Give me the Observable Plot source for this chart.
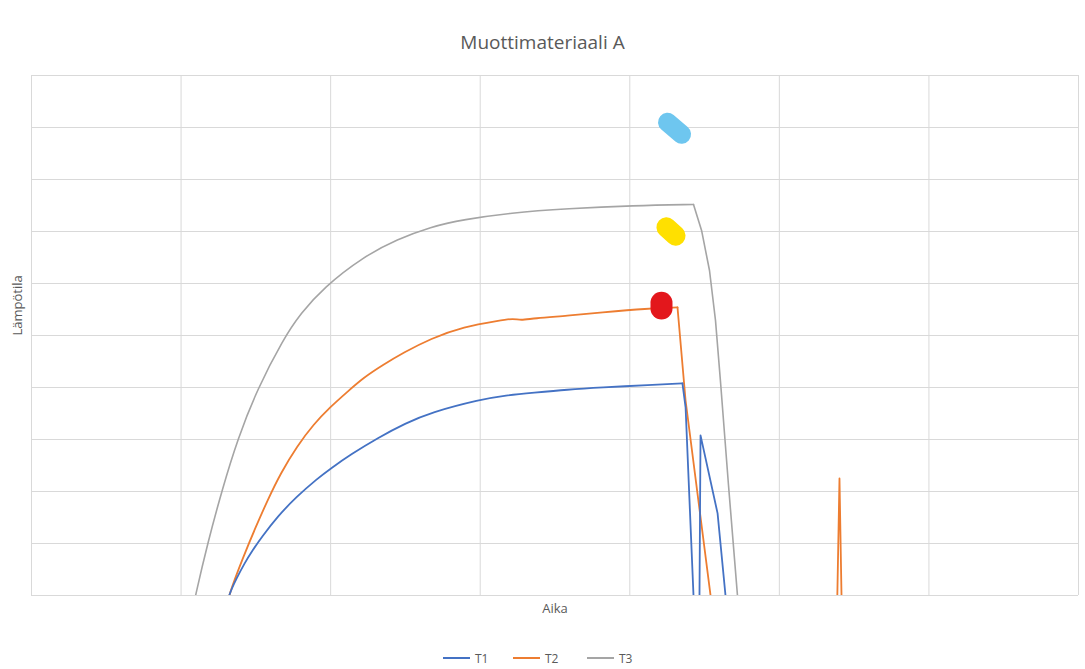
<!DOCTYPE html>
<html>
<head>
<meta charset="utf-8">
<script src="https://cdn.jsdelivr.net/npm/d3@7"></script>
<script src="https://cdn.jsdelivr.net/npm/@observablehq/plot@0.6"></script>
<style>
  body { margin: 0; background: #fff; font-family: "Open Sans", "Liberation Sans", sans-serif; }
  #wrap { width: 1085px; }
  #title { height: 60px; box-sizing: border-box; padding-top: 30px; line-height: 24px;
           text-align: center; font-size: 19px; color: #595959; }
  #legend { height: 34px; position: relative; font-size: 12px; color: #595959; }
  .item { position: absolute; top: 16px; display: flex; align-items: center; height: 14px; }
  .swatch { display: inline-block; width: 27px; height: 2px; margin-right: 5px; }
</style>
</head>
<body>
<div id="wrap">
  <div id="title">Muottimateriaali A</div>
  <div id="chart"></div>
  <div id="legend"></div>
</div>
<script>
// Temperature readings [time, temperature]; values below 0 fall under the axis floor
const seriesNames = ["T1", "T2", "T3"];
const seriesColors = ["#4472C4", "#ED7D31", "#A5A5A5"];

const t1 = [
  [129.0, -3.5], [131.7, 0], [137.1, 3.3], [142.4, 6.2], [147.8, 8.7], [153.8, 11.2],
  [164.5, 15.2], [177.2, 19.0], [191.2, 22.5], [199.9, 24.4], [213.3, 27.1], [232.0, 30.4],
  [250.0, 33.1], [266.8, 35.2], [300.2, 37.7], [316.9, 38.5], [335.6, 39.0], [358.4, 39.6],
  [380.4, 40.0], [413.8, 40.5], [435.2, 40.8],
  [437.3, 36.2], [442.6, 0], [443.3, -3.8], [446.0, -3.8], [446.6, 0], [447.3, 30.8],
  [458.7, 15.8], [464.0, 0], [464.7, -3.8]
];
const t2 = [
  [129.7, -3.3], [131.7, 0], [141.7, 7.5], [149.8, 13.1], [157.8, 18.3], [166.5, 23.5],
  [177.8, 28.8], [188.5, 32.9], [199.9, 36.3], [211.3, 39.2], [222.0, 41.9], [235.3, 44.4],
  [248.7, 46.7], [266.8, 49.4], [288.8, 51.7], [313.6, 52.9], [322.3, 53.3], [326.9, 52.9],
  [335.6, 53.3], [358.4, 53.8], [380.4, 54.4], [411.8, 55.2], [431.9, 55.4],
  [437.3, 37.5], [454.0, 0], [455.3, -3.8], [538.5, -4], [540.2, 22.5], [541.8, -4]
];
const t3 = [
  [107.0, -3.8], [109.6, 0], [117.7, 10.0], [127.7, 20.6], [137.7, 30.0], [151.1, 39.8],
  [168.5, 49.4], [179.8, 54.2], [195.2, 59.2], [222.0, 65.2], [244.7, 68.5], [266.8, 70.9],
  [288.8, 72.3], [320.3, 73.6], [358.4, 74.4], [402.5, 75.0], [442.6, 75.2],
  [448.0, 70.2], [453.3, 62.5], [457.3, 52.9], [460.6, 41.3], [466.0, 21.2], [472.0, 0],
  [473.3, -3.8]
];

// Hand-drawn highlight marks
const markerBlue = [[425.2, 91.0], [434.6, 88.7]];
const markerYellow = [[424.5, 70.8], [430.6, 69.2]];
const markerRed = [[421.2, 56.3], [421.2, 55.2]];

const xTicks = d3.range(0, 701, 100);
const yTicks = d3.range(0, 101, 10);

// Each series rises smoothly to its peak, then falls in straight segments
function seriesMarks(pts, color, width) {
  const peak = d3.maxIndex(pts, (d) => d[1]);
  const rise = pts.slice(0, peak + 1);
  const fall = pts.slice(peak);
  return [
    Plot.line(rise, {stroke: color, strokeWidth: width, curve: "basis", clip: true}),
    Plot.line(fall, {stroke: color, strokeWidth: width, curve: "linear", clip: true})
  ];
}

const chart = Plot.plot({
  width: 1085,
  height: 575,
  marginLeft: 31,
  marginRight: 7,
  marginTop: 15,
  marginBottom: 40,
  x: {domain: [0, 700], axis: null},
  y: {domain: [0, 100], axis: null},
  marks: [
    Plot.gridX(xTicks, {stroke: "#d9d9d9", strokeOpacity: 1, strokeWidth: 1}),
    Plot.gridY(yTicks, {stroke: "#d9d9d9", strokeOpacity: 1, strokeWidth: 1}),
    ...seriesMarks(t3, seriesColors[2], 1.6),
    ...seriesMarks(t2, seriesColors[1], 1.8),
    ...seriesMarks(t1, seriesColors[0], 1.8),
    Plot.line(markerBlue, {stroke: "#6ec6ef", strokeWidth: 19, strokeLinecap: "round"}),
    Plot.line(markerYellow, {stroke: "#ffe000", strokeWidth: 20, strokeLinecap: "round"}),
    Plot.line(markerRed, {stroke: "#e3171c", strokeWidth: 22, strokeLinecap: "round"}),
    Plot.text(["Aika"], {frameAnchor: "bottom", lineAnchor: "middle", dy: 13, fontSize: 13, fill: "#595959"}),
    Plot.text(["Lämpötila"], {frameAnchor: "left", lineAnchor: "middle", rotate: -90, dx: -14, fontSize: 13, fill: "#595959"})
  ],
  style: {fontFamily: "'Open Sans', 'Liberation Sans', sans-serif", background: "#fff"}
});
document.getElementById("chart").appendChild(chart);

// Legend below the chart
const legend = document.getElementById("legend");
const legendX = [443, 513, 587];
seriesNames.forEach((name, i) => {
  const item = document.createElement("div");
  item.className = "item";
  item.style.left = legendX[i] + "px";
  const sw = document.createElement("span");
  sw.className = "swatch";
  sw.style.background = seriesColors[i];
  const label = document.createElement("span");
  label.textContent = name;
  item.appendChild(sw);
  item.appendChild(label);
  legend.appendChild(item);
});
</script>
</body>
</html>
